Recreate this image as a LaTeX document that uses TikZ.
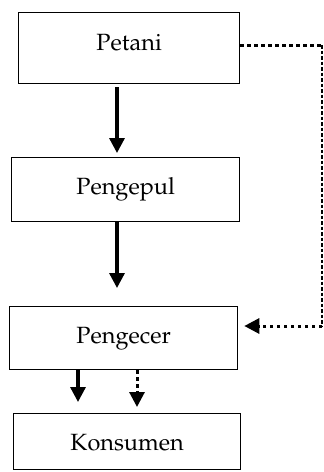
\documentclass[tikz,border=0pt]{standalone}
\usepackage[T1]{fontenc}
\usepackage{mathpazo}
\usetikzlibrary{arrows.meta,calc}
\begin{document}
\begin{tikzpicture}[x=1pt,y=-1pt,
  box/.style={draw, line width=1.3pt, inner sep=0pt, anchor=north west},
  lbl/.style={anchor=base, inner sep=0pt, font=\fontsize{23.5}{28}\selectfont},
  arr/.style={line width=3.3pt, -{Triangle[width=15pt,length=15pt]}},
  dotarr/.style={line width=3pt, dash pattern=on 3.5pt off 3.5pt, -{Triangle[width=15pt,length=15pt]}},
  dotline/.style={line width=3pt, dash pattern=on 3.5pt off 3.5pt},
  dashline/.style={line width=1.1pt, dash pattern=on 3.5pt off 2pt}]
\useasboundingbox (0,0) rectangle (324,472);
\node[box, minimum width=221pt, minimum height=71pt] (petani) at (18,12) {};
\node[lbl] (tpetani) at (petani.center |- 0,50) {Petani};
\node[box, minimum width=228pt, minimum height=64pt] (pengepul) at (11,157) {};
\node[lbl] (tpengepul) at (pengepul.center |- 0,194) {Pengepul};
\node[box, minimum width=228pt, minimum height=63pt] (pengecer) at (9,306) {};
\node[lbl] (tpengecer) at (pengecer.center |- 0,343) {Pengecer};
\node[box, minimum width=227pt, minimum height=56pt] (konsumen) at (13,413) {};
\node[lbl] (tkonsumen) at (konsumen.center |- 0,450) {Konsumen};
% solid arrows
\draw[arr, shorten <=3pt, shorten >=4pt] (petani.south -| 117,0) -- (pengepul.north -| 117,0);
\draw[arr, shorten >=18pt] (pengepul.south -| 117,0) -- (pengecer.north -| 117,0);
\draw[arr, shorten >=11pt] (pengecer.south -| 78,0) -- (konsumen.north -| 78,0);
\draw[dotarr, shorten >=6pt] (pengecer.south -| 137,0) -- (konsumen.north -| 137,0);
% dotted side connection
\coordinate (c1) at (322,45);
\coordinate (c2) at (322,326);
\draw[dotline] (c1 -| petani.east) -- (c1);
\draw[dashline] (c1) -- (c2);
\draw[dotarr, shorten >=6pt] (c2) -- (c2 -| pengecer.east);
\end{tikzpicture}
\end{document}
